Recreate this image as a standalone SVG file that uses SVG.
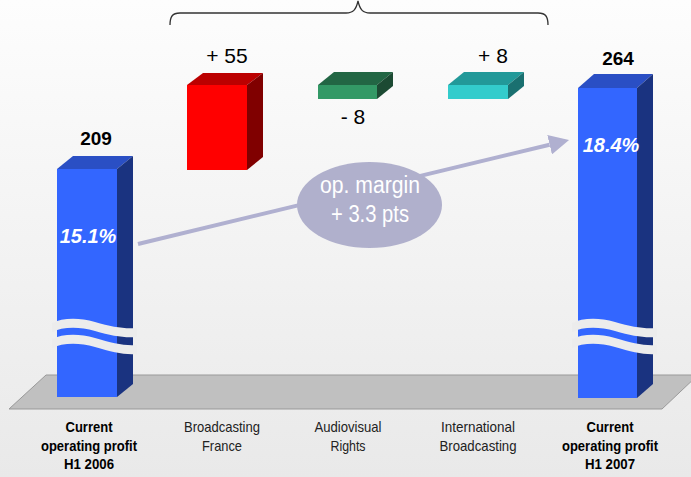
<svg xmlns="http://www.w3.org/2000/svg" width="691" height="477" viewBox="0 0 691 477">
  <defs>
    <linearGradient id="bg" x1="0" y1="0" x2="0" y2="1">
      <stop offset="0" stop-color="#fdfdfd"/>
      <stop offset="1" stop-color="#e9e9e9"/>
    </linearGradient>
    <marker id="head" viewBox="0 0 20 20" refX="0" refY="10" markerWidth="20" markerHeight="20" markerUnits="userSpaceOnUse" orient="auto">
      <path d="M0,0 L20,10 L0,20 Z" fill="#b0b0d0"/>
    </marker>
  </defs>
  <style>
    .num { font-family: "Liberation Sans", Arial, sans-serif; font-size: 19px; font-weight: bold; fill: #000; text-anchor: middle; }
    .delta { font-family: "Liberation Sans", Arial, sans-serif; font-size: 21px; fill: #000; text-anchor: middle; }
    .pct { font-family: "Liberation Sans", Arial, sans-serif; font-size: 20px; font-weight: bold; font-style: italic; fill: #fff; text-anchor: middle; }
    .cat { font-family: "Liberation Sans", Arial, sans-serif; font-size: 15px; fill: #222; text-anchor: middle; }
    .cat.total { font-weight: bold; fill: #000; }
    .bubble { font-family: "Liberation Sans", Arial, sans-serif; font-size: 23px; fill: #fff; text-anchor: middle; }
    .blue-front { fill: #3366ff; }
    .blue-top { fill: #2a4fc4; }
    .blue-side { fill: #1a3380; }
    .brk { fill: #ececec; }
  </style>

  <!-- background and floor -->
  <rect x="0" y="0" width="691" height="477" fill="url(#bg)"/>
  <polygon points="46,375 698,375 662,409 9,409" fill="#c0c0c0" stroke="#999" stroke-width="1"/>

  <!-- brace over the divisional contributions -->
  <path d="M170,25 C170,17 172,13 180,13 L346,13 C353,13 356,10 358,1 C360,10 363,13 370,13 L538,13 C546,13 548,17 548,25" fill="none" stroke="#333" stroke-width="1.3"/>

  <!-- H1 2006 total -->
  <g id="total-2006">
    <rect class="blue-front" x="57" y="169" width="60" height="228"/>
    <polygon class="blue-top" points="57,169 117,169 133,156 73,156"/>
    <polygon class="blue-side" points="117,169 133,156 133,384 117,397"/>
    <path class="brk" d="M52,323 C62,318 78,317 95,322 C112,327 124,329 137,328 L137,337 C124,338 112,336 95,331 C78,326 62,327 52,332 Z"/>
    <path class="brk" d="M52,339 C62,334 78,333 95,338 C112,343 124,346 137,345 L137,354 C124,355 112,352 95,347 C78,342 62,343 52,348 Z"/>
    <text class="num" x="96" y="145">209</text>
    <text class="pct" x="88" y="243">15.1%</text>
  </g>

  <!-- Broadcasting France -->
  <g id="broadcasting-france">
    <rect x="187" y="85" width="60" height="85" fill="#ff0000"/>
    <polygon points="187,85 247,85 263,73 203,73" fill="#bb0000"/>
    <polygon points="247,85 263,73 263,157 247,170" fill="#800000"/>
    <text class="delta" x="227" y="63">+ 55</text>
  </g>

  <!-- Audiovisual Rights -->
  <g id="audiovisual-rights">
    <rect x="318" y="85" width="59" height="14" fill="#339966"/>
    <polygon points="318,85 377,85 393,72 334,72" fill="#226644"/>
    <polygon points="377,85 393,72 393,86 377,99" fill="#1c4a33"/>
    <text class="delta" x="353" y="124">- 8</text>
  </g>

  <!-- International Broadcasting -->
  <g id="international-broadcasting">
    <rect x="448" y="85" width="60" height="14" fill="#33cccc"/>
    <polygon points="448,85 508,85 524,72 464,72" fill="#229999"/>
    <polygon points="508,85 524,72 524,86 508,99" fill="#1a7070"/>
    <text class="delta" x="493" y="63">+ 8</text>
  </g>

  <!-- H1 2007 total -->
  <g id="total-2007">
    <rect class="blue-front" x="578" y="88" width="59" height="310"/>
    <polygon class="blue-top" points="578,88 637,88 653,74 594,74"/>
    <polygon class="blue-side" points="637,88 653,74 653,384 637,398"/>
    <path class="brk" d="M572,323 C582,318 598,317 615,322 C632,327 644,329 657,328 L657,337 C644,338 632,336 615,331 C598,326 582,327 572,332 Z"/>
    <path class="brk" d="M572,339 C582,334 598,333 615,338 C632,343 644,346 657,345 L657,354 C644,355 632,352 615,347 C598,342 582,343 572,348 Z"/>
    <text class="num" x="618" y="65">264</text>
    <text class="pct" x="611" y="152">18.4%</text>
  </g>

  <!-- margin trend connector -->
  <g id="connectors">
    <line x1="138" y1="244" x2="549.6" y2="144.7" stroke="#b0b0d0" stroke-width="4" marker-end="url(#head)"/>
  </g>

  <!-- margin bubble -->
  <g id="margin-bubble">
    <ellipse cx="369.5" cy="205" rx="72.5" ry="43" fill="#b0b0cc"/>
    <text class="bubble" x="370" y="193" textLength="100" lengthAdjust="spacingAndGlyphs">op. margin</text>
    <text class="bubble" x="370" y="222" textLength="78" lengthAdjust="spacingAndGlyphs">+ 3.3 pts</text>
  </g>

  <!-- category labels (condensed to the narrow face widths) -->
  <g id="labels">
    <text class="cat total" x="89" y="432" textLength="47" lengthAdjust="spacingAndGlyphs">Current</text>
    <text class="cat total" x="89" y="451" textLength="96" lengthAdjust="spacingAndGlyphs">operating profit</text>
    <text class="cat total" x="89" y="469" textLength="50" lengthAdjust="spacingAndGlyphs">H1 2006</text>
    <text class="cat" x="222" y="432" textLength="76" lengthAdjust="spacingAndGlyphs">Broadcasting</text>
    <text class="cat" x="222" y="451" textLength="40" lengthAdjust="spacingAndGlyphs">France</text>
    <text class="cat" x="348" y="432" textLength="67" lengthAdjust="spacingAndGlyphs">Audiovisual</text>
    <text class="cat" x="348" y="451" textLength="35" lengthAdjust="spacingAndGlyphs">Rights</text>
    <text class="cat" x="478" y="432" textLength="74" lengthAdjust="spacingAndGlyphs">International</text>
    <text class="cat" x="478" y="451" textLength="77" lengthAdjust="spacingAndGlyphs">Broadcasting</text>
    <text class="cat total" x="610" y="432" textLength="47" lengthAdjust="spacingAndGlyphs">Current</text>
    <text class="cat total" x="610" y="451" textLength="96" lengthAdjust="spacingAndGlyphs">operating profit</text>
    <text class="cat total" x="610" y="469" textLength="50" lengthAdjust="spacingAndGlyphs">H1 2007</text>
  </g>
</svg>
